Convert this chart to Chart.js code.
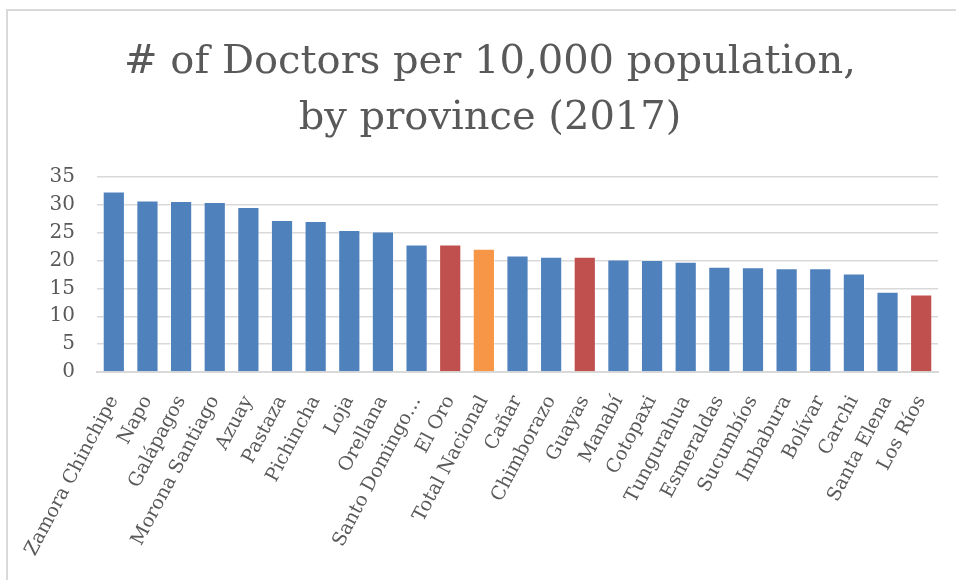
<!DOCTYPE html>
<html>
<head>
<meta charset="utf-8">
<title>Doctors per 10,000 population</title>
<script src="https://cdn.jsdelivr.net/npm/chart.js@4.4.1/dist/chart.umd.min.js"></script>
<style>
  html, body { margin: 0; padding: 0; background: #fff; }
  #wrap { position: relative; width: 956px; height: 580px; overflow: hidden; }
  #frame {
    position: absolute; left: 6px; top: 9px; width: 960px; height: 580px;
    border-top: 2px solid #d9d9d9; border-left: 2px solid #d9d9d9;
    pointer-events: none;
  }
  canvas { position: absolute; left: 0; top: 0; }
</style>
</head>
<body>
<div id="wrap">
  <canvas id="chart" width="956" height="580"></canvas>
  <div id="frame"></div>
</div>
<script>
const provinces = [
  "Zamora Chinchipe", "Napo", "Galápagos", "Morona Santiago", "Azuay",
  "Pastaza", "Pichincha", "Loja", "Orellana", "Santo Domingo…",
  "El Oro", "Total Nacional", "Cañar", "Chimborazo", "Guayas",
  "Manabí", "Cotopaxi", "Tungurahua", "Esmeraldas", "Sucumbíos",
  "Imbabura", "Bolívar", "Carchi", "Santa Elena", "Los Ríos"
];

const doctorsPer10k = [
  32.4, 30.8, 30.7, 30.5, 29.6,
  27.3, 27.1, 25.5, 25.2, 22.9,
  22.9, 22.1, 20.9, 20.7, 20.7,
  20.2, 20.1, 19.8, 18.9, 18.8,
  18.6, 18.6, 17.7, 14.4, 13.9
];

const yTicks = [0, 5, 10, 15, 20, 25, 30, 35];

const redProvinces = ["El Oro", "Guayas", "Los Ríos"];
const nationalLabel = "Total Nacional";

const COLORS = {
  blue: "#4f81bd",
  red: "#c0504d",
  orange: "#f79646",
  text: "#595959",
  grid: "#d9d9d9"
};

const FONT = "'DejaVu Serif', 'Liberation Serif', serif";

function barColor(name){
  if (name === nationalLabel) return COLORS.orange;
  if (redProvinces.includes(name)) return COLORS.red;
  return COLORS.blue;
}

const ctx = document.getElementById("chart").getContext("2d");

new Chart(ctx, {
  type: "bar",
  data: {
    labels: provinces,
    datasets: [{
      label: "# of Doctors per 10,000 population",
      data: doctorsPer10k,
      backgroundColor: provinces.map(barColor),
      borderColor: "rgba(255,255,255,0.35)",
      borderWidth: 1,
      barPercentage: 0.66,
      categoryPercentage: 1.0
    }]
  },
  options: {
    responsive: false,
    animation: false,
    layout: { padding: { left: 42, right: 18, top: 0, bottom: 0 } },
    plugins: {
      legend: { display: false },
      tooltip: { enabled: false },
      title: {
        display: true,
        text: ["# of Doctors per 10,000 population,", "by province (2017)"],
        color: COLORS.text,
        font: { family: FONT, size: 40, weight: "normal", lineHeight: 1.4 },
        padding: { top: 35, bottom: 30 }
      }
    },
    scales: {
      x: {
        grid: { display: false, drawTicks: false },
        border: { display: true, color: COLORS.grid, width: 2 },
        // rotated labels add extra side padding; keep plot edges fixed
        afterFit: (scale) => {
          scale.height = 208;
          scale.paddingLeft = 0;
          scale.paddingRight = 0;
        },
        ticks: {
          autoSkip: false,
          minRotation: 62,
          maxRotation: 62,
          padding: 20,
          color: COLORS.text,
          font: { family: FONT, size: 19 }
        }
      },
      y: {
        min: 0,
        max: 35,
        afterFit: (scale) => { scale.width = 55; },
        afterBuildTicks: (scale) => { scale.ticks = yTicks.map(v => ({ value: v })); },
        grid: { color: COLORS.grid, lineWidth: 1.5, drawTicks: false },
        border: { display: false },
        ticks: {
          padding: 22,
          color: COLORS.text,
          font: { family: FONT, size: 20 }
        }
      }
    }
  }
});
</script>
</body>
</html>
